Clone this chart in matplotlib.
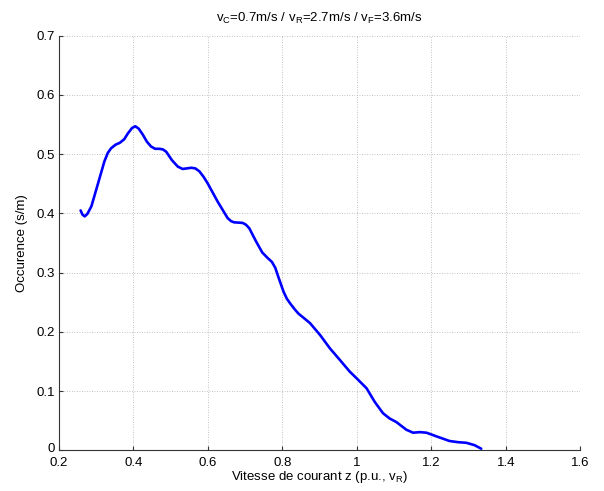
import matplotlib
matplotlib.use("Agg")
import matplotlib.pyplot as plt
import matplotlib.transforms as mtransforms

plt.rcParams['font.family'] = ['Liberation Sans', 'DejaVu Sans']
plt.rcParams['mathtext.fontset'] = 'custom'
plt.rcParams['mathtext.rm'] = 'Liberation Sans'
plt.rcParams['mathtext.it'] = 'Liberation Sans:italic'

speed = [0.258, 0.263, 0.269, 0.276, 0.287, 0.305, 0.322, 0.331, 0.340, 0.352,
         0.363, 0.375, 0.385, 0.396, 0.405, 0.414, 0.425, 0.436, 0.447, 0.458,
         0.470, 0.479, 0.488, 0.503, 0.519, 0.532, 0.544, 0.555, 0.566, 0.577,
         0.588, 0.599, 0.626, 0.653, 0.662, 0.670, 0.693, 0.702, 0.711, 0.729,
         0.746, 0.760, 0.772, 0.781, 0.789, 0.803, 0.812, 0.821, 0.832, 0.843,
         0.874, 0.901, 0.928, 0.954, 0.981, 0.999, 1.026, 1.048, 1.070, 1.088,
         1.106, 1.133, 1.151, 1.169, 1.187, 1.213, 1.249, 1.272, 1.294, 1.316,
         1.334]
occurrence = [0.405, 0.398, 0.395, 0.399, 0.412, 0.451, 0.488, 0.502, 0.510, 0.516,
              0.519, 0.525, 0.535, 0.544, 0.547, 0.543, 0.533, 0.521, 0.513, 0.509,
              0.509, 0.508, 0.504, 0.490, 0.479, 0.475, 0.476, 0.477, 0.476, 0.471,
              0.462, 0.451, 0.420, 0.392, 0.387, 0.385, 0.384, 0.381, 0.375, 0.353,
              0.334, 0.325, 0.318, 0.308, 0.293, 0.268, 0.256, 0.248, 0.239, 0.231,
              0.215, 0.195, 0.172, 0.153, 0.133, 0.122, 0.105, 0.082, 0.063, 0.054,
              0.048, 0.035, 0.030, 0.031, 0.030, 0.024, 0.016, 0.014, 0.013, 0.009,
              0.003]

xticks = [0.2, 0.4, 0.6, 0.8, 1.0, 1.2, 1.4, 1.6]
xticklabels = ['0.2', '0.4', '0.6', '0.8', '1', '1.2', '1.4', '1.6']
yticks = [0, 0.1, 0.2, 0.3, 0.4, 0.5, 0.6, 0.7]
yticklabels = ['0', '0.1', '0.2', '0.3', '0.4', '0.5', '0.6', '0.7']

fig = plt.figure(figsize=(6.04, 4.91), dpi=100)
ax = fig.add_axes([0.0977, 0.0825, 0.863, 0.845])
ax.plot(speed, occurrence, color=(0, 0, 1), linewidth=1.9,
        solid_joinstyle='round', solid_capstyle='round')
ax.set_xlim(0.2, 1.6)
ax.set_ylim(0, 0.7)
ax.set_xticks(xticks)
ax.set_xticklabels(xticklabels)
ax.set_yticks(yticks)
ax.set_yticklabels(yticklabels)
ax.grid(True, linestyle=(0, (1, 2)), color='#b0b0b0', linewidth=0.6)
ax.set_axisbelow(True)
for s in ['top', 'right']:
    ax.spines[s].set_visible(False)
for s in ['left', 'bottom']:
    ax.spines[s].set_color('#333333')
    ax.spines[s].set_linewidth(0.8)
ax.tick_params(direction='in', length=3, labelsize=9.5, colors='#333333', labelcolor='black')
ax.tick_params(axis='x', pad=5)
ax.tick_params(axis='y', pad=3)
# nudge the "0" y label up slightly so it does not touch "0.2"
lbl0 = ax.get_yticklabels()[0]
lbl0.set_transform(lbl0.get_transform() + mtransforms.ScaledTranslation(0, 2 / 72, fig.dpi_scale_trans))
ax.set_xlabel(r'Vitesse de courant z (p.u., v$_{\mathrm{R}}$)', fontsize=9.5, labelpad=0)
ax.set_ylabel('Occurence (s/m)', fontsize=9.5, labelpad=6)
ax.set_title(r'v$_{\mathrm{C}}$=0.7m/s / v$_{\mathrm{R}}$=2.7m/s / v$_{\mathrm{F}}$=3.6m/s', fontsize=9.5, pad=10)

fig.savefig('out.png', dpi=100)
